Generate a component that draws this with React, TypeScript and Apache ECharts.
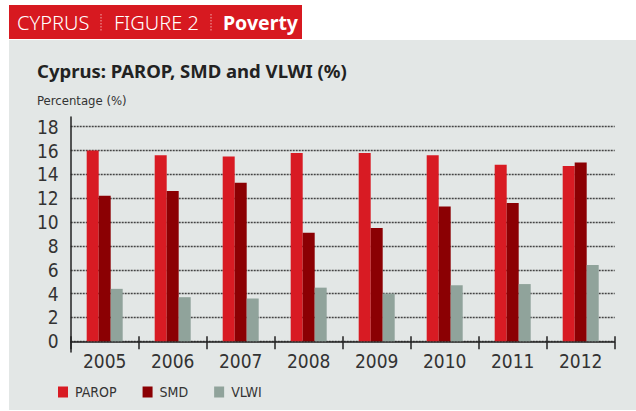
import React, { useEffect, useRef } from "react";
import * as echarts from "echarts";

const years = ["2005", "2006", "2007", "2008", "2009", "2010", "2011", "2012"];
const parop = [16.0, 15.6, 15.5, 15.8, 15.8, 15.6, 14.8, 14.7];
const smd = [12.2, 12.6, 13.3, 9.1, 9.5, 11.3, 11.6, 15.0];
const vlwi = [4.4, 3.7, 3.6, 4.5, 4.0, 4.7, 4.8, 6.4];
const seriesNames = ["PAROP", "SMD", "VLWI"];
const colors = ["#d81b23", "#8b0003", "#90a39b"];

const NARROW = "'Liberation Sans Narrow', 'DejaVu Sans Condensed', 'Roboto', sans-serif";
const SANS = "'Noto Sans', 'Open Sans', sans-serif";

export default function App() {
  const ref = useRef<HTMLDivElement>(null);
  useEffect(() => {
    if (!ref.current) return;
    const chart = echarts.init(ref.current, undefined, { renderer: "svg" });
    const seriesData = [parop, smd, vlwi];
    chart.setOption({
      animation: false,
      backgroundColor: "#ffffff",
      graphic: [
        { type: "rect", z: -10, shape: { x: 9, y: 40, width: 627, height: 370 }, style: { fill: "#e3e7e6" } },
        { type: "rect", z: -10, shape: { x: 9, y: 5, width: 293, height: 34 }, style: { fill: "#d71920" } },
        { type: "text", x: 17, y: 22, style: { text: "CYPRUS", fill: "#ffffff", font: `300 20px ${SANS}`, verticalAlign: "middle" } },
        { type: "line", shape: { x1: 101, y1: 14, x2: 101, y2: 31 }, style: { stroke: "#f3a9ab", lineWidth: 1, lineDash: [1.5, 1.5] } },
        { type: "text", x: 114, y: 22, style: { text: "FIGURE 2", fill: "#ffffff", font: `300 20px ${SANS}`, verticalAlign: "middle" } },
        { type: "line", shape: { x1: 211, y1: 14, x2: 211, y2: 31 }, style: { stroke: "#f3a9ab", lineWidth: 1, lineDash: [1.5, 1.5] } },
        { type: "text", x: 223, y: 22, style: { text: "Poverty", fill: "#ffffff", font: `bold 19.5px ${SANS}`, verticalAlign: "middle" } },
        { type: "text", x: 37, y: 70, style: { text: "Cyprus: PAROP, SMD and VLWI (%)", fill: "#222222", font: `bold 18.5px ${SANS}`, verticalAlign: "middle" } },
        { type: "text", x: 37, y: 100, style: { text: "Percentage (%)", fill: "#333333", font: `13px ${NARROW}`, verticalAlign: "middle" } },
      ],
      legend: {
        left: 58,
        top: 385,
        padding: 0,
        itemWidth: 10,
        itemHeight: 11,
        itemGap: 26,
        icon: "rect",
        data: seriesNames,
        textStyle: { fontFamily: NARROW, fontSize: 14, color: "#333333", padding: [0, 0, 0, 2] },
      },
      grid: [
        { left: 70.7, right: 21.3, top: 126.7, bottom: 69.7 },
        { left: 70.7, right: 21.3, top: 117, bottom: 59 },
      ],
      xAxis: [
        {
          type: "category",
          gridIndex: 0,
          data: years,
          position: "bottom",
          axisLine: { show: true, lineStyle: { color: "#222222", width: 1.5 } },
          axisTick: { show: true, length: 8, lineStyle: { color: "#222222", width: 1.5 } },
          axisLabel: { fontFamily: NARROW, fontSize: 19, color: "#333333", margin: 10 },
          splitLine: { show: false },
        },
        {
          type: "category",
          gridIndex: 0,
          data: years,
          position: "bottom",
          axisLine: { show: false },
          axisTick: { show: true, inside: true, length: 5, lineStyle: { color: "#222222", width: 1.5 } },
          axisLabel: { show: false },
          splitLine: { show: false },
        },
        {
          type: "category",
          gridIndex: 1,
          data: years,
          show: false,
        },
      ],
      yAxis: [
        {
          type: "value",
          gridIndex: 0,
          min: 0,
          max: 18,
          interval: 2,
          axisLine: { show: false },
          axisTick: { show: false },
          axisLabel: { fontFamily: NARROW, fontSize: 19, color: "#333333", margin: 12 },
          splitLine: { show: true, lineStyle: { color: "#444444", width: 1.3, type: [2, 1] } },
        },
        {
          type: "value",
          gridIndex: 1,
          min: 0,
          max: 1,
          axisLine: { show: true, lineStyle: { color: "#222222", width: 1.5 } },
          axisTick: { show: false },
          axisLabel: { show: false },
          splitLine: { show: false },
        },
      ],
      series: seriesNames.map((name, i) => ({
        name,
        type: "bar",
        xAxisIndex: 0,
        yAxisIndex: 0,
        data: seriesData[i],
        barWidth: 12,
        barGap: "0%",
        itemStyle: { color: colors[i] },
      })),
    });
    return () => chart.dispose();
  }, []);
  return <div ref={ref} style={{ position: "fixed", left: 0, top: 0, width: 636, height: 411 }} />;
}
